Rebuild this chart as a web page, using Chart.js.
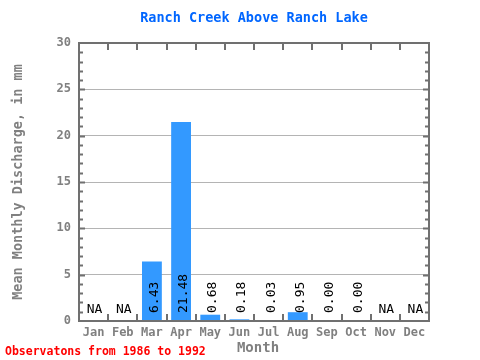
<!DOCTYPE html>
<html>
<head>
<meta charset="utf-8">
<script src="https://cdn.jsdelivr.net/npm/chart.js@4"></script>
<style>
  html, body { margin: 0; padding: 0; background: #fff; }
  #wrap { width: 480px; height: 360px; position: relative; }
</style>
</head>
<body>
<div id="wrap"><canvas id="chart" width="480" height="360"></canvas></div>
<script>
const months = ['Jan', 'Feb', 'Mar', 'Apr', 'May', 'Jun', 'Jul', 'Aug', 'Sep', 'Oct', 'Nov', 'Dec'];
const discharge = [null, null, 6.43, 21.48, 0.68, 0.18, 0.03, 0.95, 0.00, 0.00, null, null];
const valueLabels = ['NA', 'NA', '6.43', '21.48', '0.68', '0.18', '0.03', '0.95', '0.00', '0.00', 'NA', 'NA'];
const yTicks = [0, 5, 10, 15, 20, 25, 30];

const mono = '"DejaVu Sans Mono", "Liberation Mono", monospace';
const gray = '#808080';

// frame, inward ticks, texts
const decorations = {
    id: 'decorations',
    afterDraw(chart) {
        const ctx = chart.ctx;
        const a = chart.chartArea;
        const x = chart.scales.x;
        const y = chart.scales.y;
        ctx.save();

        // frame
        ctx.strokeStyle = '#707070';
        ctx.lineWidth = 2;
        ctx.strokeRect(a.left, a.top, a.right - a.left, a.bottom - a.top);

        // minor ticks on y, both sides
        for (let v = 1; v < 30; v++) {
            const py = Math.round(y.getPixelForValue(v)) + 0.5;
            const len = v % 5 === 0 ? 6 : 4;
            ctx.beginPath();
            ctx.moveTo(a.left, py); ctx.lineTo(a.left + len, py);
            ctx.moveTo(a.right, py); ctx.lineTo(a.right - len, py);
            ctx.stroke();
        }
        // category boundary ticks on x, top and bottom
        const w = (a.right - a.left) / months.length;
        for (let i = 1; i < months.length; i++) {
            const px = Math.round(a.left + i * w);
            ctx.beginPath();
            ctx.moveTo(px, a.bottom); ctx.lineTo(px, a.bottom - 7);
            ctx.moveTo(px, a.top); ctx.lineTo(px, a.top + 7);
            ctx.stroke();
        }

        // value labels
        ctx.fillStyle = '#000';
        ctx.font = '13px ' + mono;
        valueLabels.forEach((t, i) => {
            const cx = x.getPixelForValue(i);
            if (discharge[i] === null) {
                ctx.textAlign = 'center';
                ctx.textBaseline = 'alphabetic';
                ctx.fillText(t, cx + 1, a.bottom - 8);
            } else {
                ctx.save();
                ctx.translate(cx + 6, a.bottom - 8);
                ctx.rotate(-Math.PI / 2);
                ctx.textAlign = 'left';
                ctx.textBaseline = 'alphabetic';
                ctx.fillText(t, 0, 0);
                ctx.restore();
            }
        });

        // title
        ctx.fillStyle = '#0066ff';
        ctx.font = 'bold 13.5px ' + mono;
        ctx.textAlign = 'center';
        ctx.textBaseline = 'middle';
        ctx.fillText('Ranch Creek Above Ranch Lake', 254, 18);

        // axis titles
        ctx.fillStyle = gray;
        ctx.font = 'bold 14px ' + mono;
        ctx.fillText('Month', 258, 348);
        ctx.font = 'bold 13.5px ' + mono;
        ctx.save();
        ctx.translate(18, 182);
        ctx.rotate(-Math.PI / 2);
        ctx.fillText('Mean Monthly Discharge, in mm', 0, 0);
        ctx.restore();

        // note
        ctx.fillStyle = '#ff0000';
        ctx.font = 'bold 11.5px ' + mono;
        ctx.textAlign = 'left';
        ctx.fillText('Observatons from 1986 to 1992', 5, 352);

        ctx.restore();
    }
};

new Chart(document.getElementById('chart'), {
    type: 'bar',
    data: {
        labels: months,
        datasets: [{
            data: discharge,
            backgroundColor: '#3399ff',
            borderWidth: 0,
            categoryPercentage: 1,
            barPercentage: 0.68
        }]
    },
    options: {
        responsive: false,
        animation: false,
        layout: { padding: { top: 43, right: 51, left: 0, bottom: 0 } },
        plugins: { legend: { display: false }, tooltip: { enabled: false } },
        scales: {
            x: {
                grid: { display: false, drawTicks: false },
                border: { display: false },
                ticks: { color: gray, font: { family: mono, size: 12, weight: 'bold' }, padding: 5, maxRotation: 0 },
                afterFit: s => { s.height = 39; }
            },
            y: {
                min: 0,
                max: 30,
                afterBuildTicks: s => { s.ticks = yTicks.map(v => ({ value: v })); },
                grid: {
                    drawTicks: false,
                    color: c => (c.tick.value === 0 || c.tick.value === 30) ? 'rgba(0,0,0,0)' : '#b4b4b4',
                    lineWidth: 1
                },
                border: { display: false },
                ticks: { color: gray, font: { family: mono, size: 12, weight: 'bold' }, padding: 8 },
                afterFit: s => { s.width = 79; }
            }
        }
    },
    plugins: [decorations]
});
</script>
</body>
</html>
